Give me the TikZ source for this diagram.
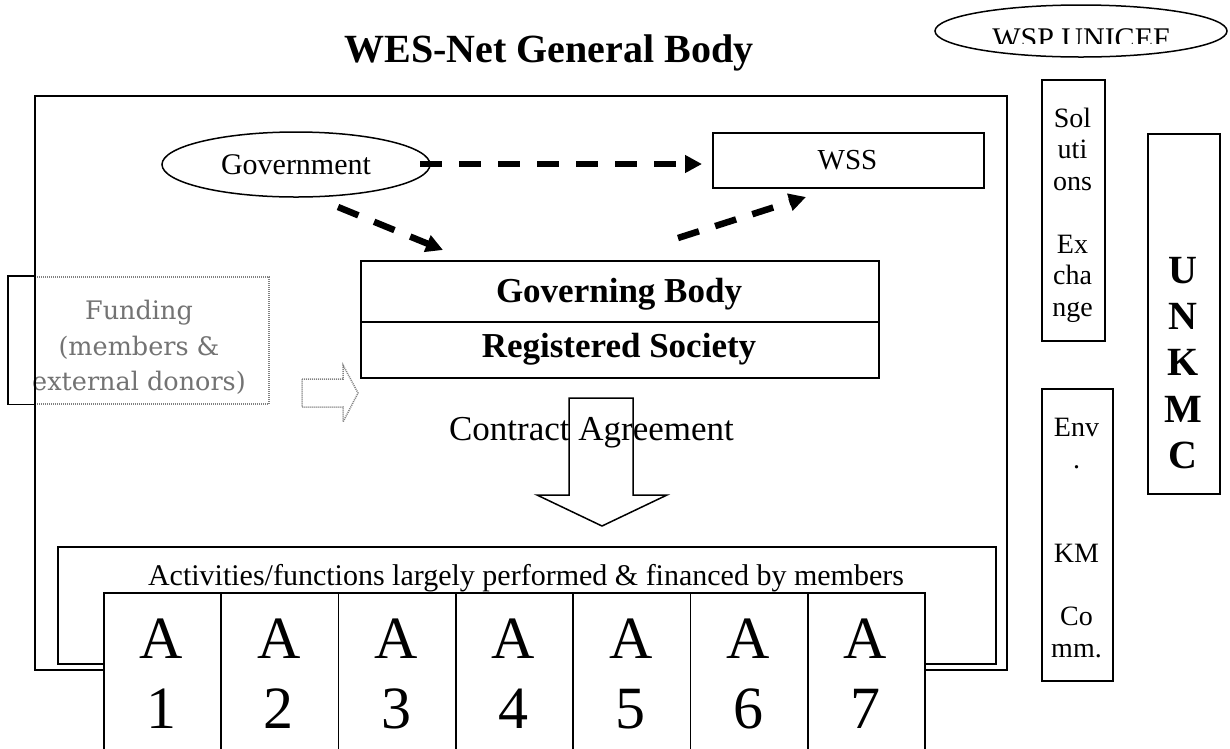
\documentclass[tikz,border=0pt]{standalone}
\usepackage{fontspec}
\setmainfont{Liberation Serif}
\newfontfamily\fundfont{DejaVu Serif}
\usetikzlibrary{arrows.meta,shapes.geometric}

\begin{document}
\begin{tikzpicture}[x=1pt,y=-1pt,
  frame/.style={draw, line width=1.8pt, inner sep=0pt, anchor=north west},
  oval/.style={draw, ellipse, line width=1.5pt, inner sep=0pt},
  link/.style={line width=6.5pt, dash pattern=on 22pt off 17pt,
    -{Triangle[length=17pt,width=17pt]}},
  grain/.style={draw=black!50, line width=1.5pt, dash pattern=on 1pt off 1pt},
  hollow/.style={draw, line width=1.5pt, line join=miter},
  colfont/.style={font=\fontsize{28}{31.5}\selectfont},
]
\useasboundingbox (0,0) rectangle (1230,748);
\clip (0,0) rectangle (1230,748);
\fill[white] (0,0) rectangle (1230,748);

% title
\node[anchor=base, font=\bfseries\fontsize{40}{48}\selectfont] (title)
  at (549,62) {WES-Net General Body};

% funding source, partly outside the general body
\node[grain, inner sep=0pt, anchor=north west, minimum width=234pt,
  minimum height=127pt] (fund) at (34,276) {};
\draw[line width=1.8pt] (fund.north west) -- ++(-26,0) |- (fund.south west);
\node[anchor=north, align=center, text=black!55,
  font=\fundfont\fontsize{25.5}{35.5}\selectfont] (fundtext) at (139,296.6)
  {Funding\\(members \&\\external donors)};
\draw[grain, line join=miter] (302,379) -- (343,379) -- (343,365) -- (358,393)
  -- (343,422) -- (343,407) -- (302,407) -- cycle;

% general body frame
\node[frame, minimum width=972pt, minimum height=574pt] (body) at (34,95) {};

% government and WSS
\node[oval, minimum width=268pt, minimum height=65pt,
  font=\fontsize{30}{36}\selectfont] (gov) at (296,164.5) {Government};
\node[frame, minimum width=271pt, minimum height=55pt] (wss) at (712,132) {};
\node[anchor=base, font=\fontsize{29}{35}\selectfont] (wsstext) at (847.5,169.5) {WSS};

% governing body / registered society
\node[frame, minimum width=518pt, minimum height=61pt] (gb) at (360,260) {};
\node[frame, minimum width=518pt, minimum height=56pt] (rs) at (360,321) {};
\node[anchor=base, font=\bfseries\fontsize{35}{42}\selectfont] (gbtext)
  at (619,302) {Governing Body};
\node[anchor=base, font=\bfseries\fontsize{35}{42}\selectfont] (rstext)
  at (619,357) {Registered Society};

% dashed relations
\coordinate (h1) at (420,164);
\coordinate (d1) at (338,207);
\coordinate (d2) at (443,250);
\coordinate (u1) at (678,238);
\coordinate (u2) at (806,197);
\draw[link, shorten >=10pt] (h1) -- (h1 -| wss.west);
\draw[link] (d1) -- (d2);
\draw[link] (u1) -- (u2);

% contract agreement arrow
\draw[hollow] (569,398) -- (633,398) -- (633,495) -- (667,495) -- (602,526)
  -- (537,495) -- (569,495) -- cycle;
\node[anchor=base, font=\fontsize{35}{42}\selectfont] (contract)
  at (591.5,440) {Contract Agreement};

% activities
\node[frame, minimum width=938pt, minimum height=117pt] (acts) at (57,546) {};
\node[anchor=base, font=\fontsize{30}{36}\selectfont] (actstext) at (526,585)
  {Activities/functions largely performed \& financed by members};
\foreach \i in {1,...,7} {
  \node[frame, fill=white, minimum width=117.3pt, minimum height=170pt] (a\i)
    at ({103+(\i-1)*117.3},592) {};
  \node[anchor=base, font=\fontsize{60}{70}\selectfont] (al\i)
    at ({103+(\i-0.5)*117.3},658) {A};
  \node[anchor=base, font=\fontsize{60}{70}\selectfont] (an\i)
    at ({103+(\i-0.5)*117.3},728) {\i};
}

% partners on the right
\node[oval, minimum width=292pt, minimum height=52pt] (wsp) at (1081,31) {};
\begin{scope}
  \clip (990,0) rectangle (1180,43);
  \node[anchor=base, font=\fontsize{30}{36}\selectfont] (wsptext) at (1081,48)
    {WSP UNICEF};
\end{scope}

\node[frame, minimum width=63pt, minimum height=261pt] (sol) at (1041,79) {};
\node[anchor=north, align=center, colfont] (soltext) at (1072.5,104.5)
  {Sol\\uti\\ons\\[31.5pt]Ex\\cha\\nge};

\node[frame, minimum width=71pt, minimum height=292pt] (env) at (1041,388) {};
\node[anchor=north, align=center, font=\fontsize{28}{31.7}\selectfont] (envtext)
  at (1076.5,414.5) {Env\\.\\[63pt]KM\\[31.5pt]Co\\mm.};

\node[frame, minimum width=72pt, minimum height=360pt] (unkmc) at (1147,133) {};
\node[anchor=north, align=center, font=\bfseries\fontsize{40}{46.3}\selectfont]
  (unkmctext) at (1183,253.5) {U\\N\\K\\M\\C};
\end{tikzpicture}
\end{document}
